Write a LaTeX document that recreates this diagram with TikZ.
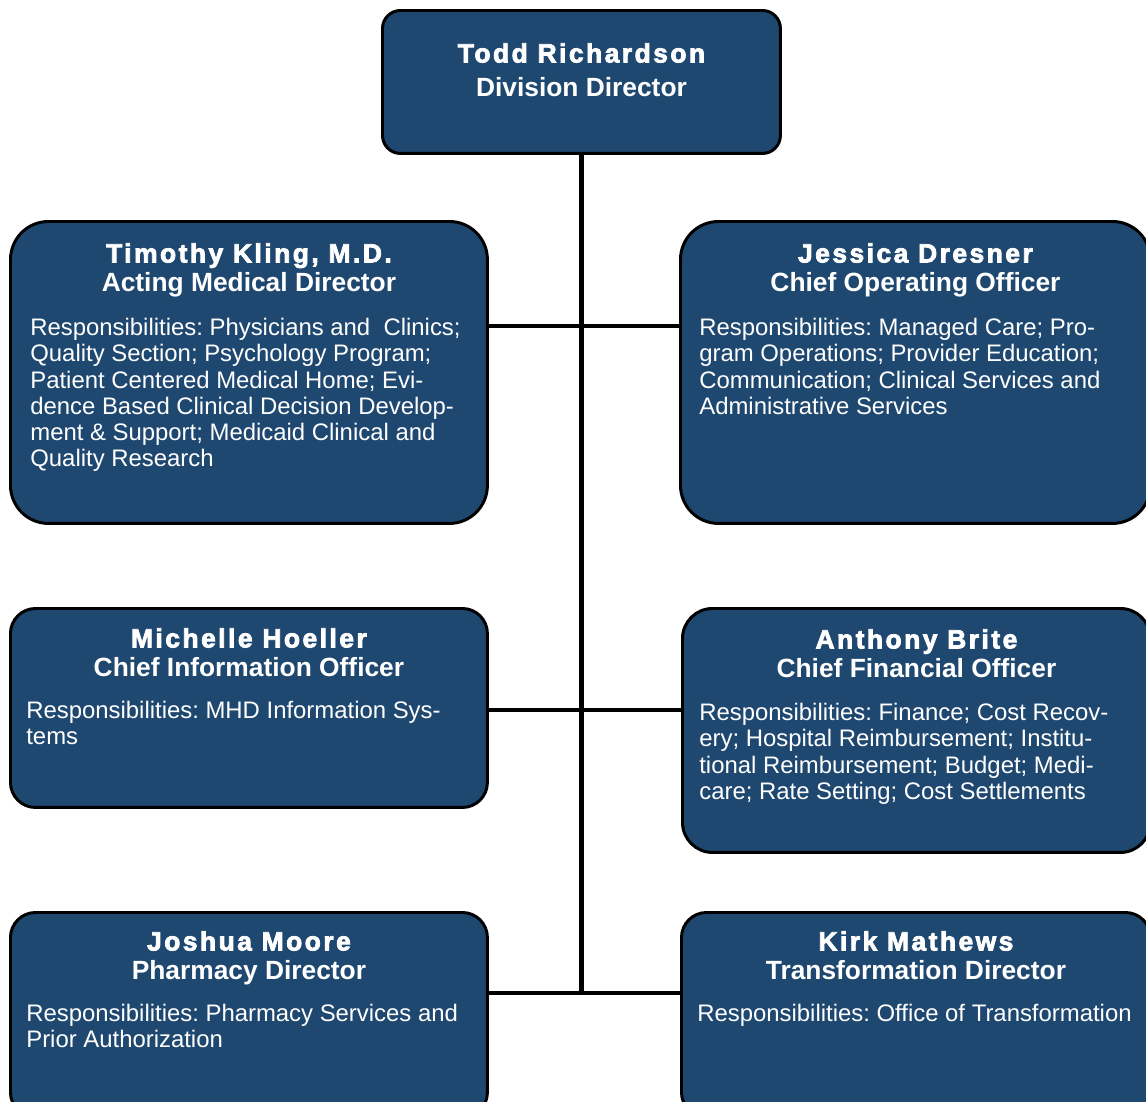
\documentclass[tikz,border=0pt]{standalone}
\usepackage{fontspec}
\setmainfont{Liberation Sans}
\newfontfamily\heavyfont[BoldFeatures={FakeBold=3},LetterSpace=9.5]{Liberation Sans}
\usetikzlibrary{positioning}
\definecolor{boxblue}{HTML}{1F4870}
\frenchspacing

\begin{document}
\begin{tikzpicture}[x=0.02cm,y=-0.02cm,
        staffbox/.style={draw=black,line width=1.7pt,fill=boxblue,anchor=north west,inner sep=0pt},
        headtext/.style={text=white,font=\fontsize{15}{16.7}\selectfont\bfseries,align=center,inner sep=0pt,anchor=north},
        dutytext/.style={text=white,font=\fontsize{13.6}{14.9}\selectfont,align=left,inner sep=0pt,anchor=north west},
        link/.style={line width=2.5pt}
    ]

    \useasboundingbox (0,0) rectangle (1146,1102);
    \clip (0,0) rectangle (1146,1102);

    % boxes
    \node[staffbox,rounded corners=0.36cm,minimum width=7.96cm,minimum height=2.86cm] (dir) at (381,9) {};
    \node[staffbox,rounded corners=0.76cm,minimum width=9.54cm,minimum height=6.04cm] (tim) at (9,220) {};
    \node[staffbox,rounded corners=0.76cm,minimum width=9.4cm,minimum height=6.04cm] (jes) at (679,220) {};
    \node[staffbox,rounded corners=0.5cm,minimum width=9.54cm,minimum height=3.98cm] (mic) at (9,607) {};
    \node[staffbox,rounded corners=0.6cm,minimum width=9.36cm,minimum height=4.88cm] (ant) at (681,607) {};
    \node[staffbox,rounded corners=0.5cm,minimum width=9.54cm,minimum height=4.1cm] (jos) at (9,911) {};
    \node[staffbox,rounded corners=0.5cm,minimum width=9.38cm,minimum height=4.1cm] (kir) at (680,911) {};

    % names and titles
    \node[headtext,font=\fontsize{15}{19.3}\selectfont\bfseries] (dirh) at ([yshift=-0.68cm]dir.north) {{\heavyfont Todd Richardson}\\Division Director};
    \node[headtext] (timh) at ([yshift=-0.46cm]tim.north) {{\heavyfont Timothy Kling, M.D.}\\Acting Medical Director};
    \node[headtext] (jesh) at ([yshift=-0.46cm]jes.north) {{\heavyfont Jessica Dresner}\\Chief Operating Officer};
    \node[headtext] (mich) at ([yshift=-0.42cm]mic.north) {{\heavyfont Michelle Hoeller}\\Chief Information Officer};
    \node[headtext] (anth) at ([yshift=-0.44cm]ant.north) {{\heavyfont Anthony Brite}\\Chief Financial Officer};
    \node[headtext] (josh) at ([yshift=-0.4cm]jos.north) {{\heavyfont Joshua Moore}\\Pharmacy Director};
    \node[headtext] (kirh) at ([yshift=-0.4cm]kir.north) {{\heavyfont Kirk Mathews}\\Transformation Director};

    % responsibilities
    \node[dutytext] (timd) at ([xshift=0.42cm,yshift=-1.96cm]tim.north west) {Responsibilities: Physicians and\ \ Clinics;\\Quality Section; Psychology Program;\\Patient Centered Medical Home; Evi-\\dence Based Clinical Decision Develop-\\ment \& Support; Medicaid Clinical and\\Quality Research};
    \node[dutytext] (jesd) at ([xshift=0.4cm,yshift=-1.96cm]jes.north west) {Responsibilities: Managed Care; Pro-\\gram Operations; Provider Education;\\Communication; Clinical Services and\\Administrative Services};
    \node[dutytext] (micd) at ([xshift=0.34cm,yshift=-1.88cm]mic.north west) {Responsibilities: MHD Information Sys-\\tems};
    \node[dutytext] (antd) at ([xshift=0.36cm,yshift=-1.92cm]ant.north west) {Responsibilities: Finance; Cost Recov-\\ery; Hospital Reimbursement; Institu-\\tional Reimbursement; Budget; Medi-\\care; Rate Setting; Cost Settlements};
    \node[dutytext] (josd) at ([xshift=0.34cm,yshift=-1.86cm]jos.north west) {Responsibilities: Pharmacy Services and\\Prior Authorization};
    \node[dutytext] (kird) at ([xshift=0.34cm,yshift=-1.86cm]kir.north west) {Responsibilities: Office of Transformation};

    % connectors
    \coordinate (low) at ([yshift=-1.64cm]jos.north east);
    \draw[link] (dir.south) -- (dir.south |- low);
    \draw[link] ([yshift=-2.12cm]tim.north east) -- ([yshift=-2.12cm]jes.north west);
    \draw[link] ([yshift=-2.06cm]mic.north east) -- ([yshift=-2.06cm]ant.north west);
    \draw[link] (low) -- ([yshift=-1.64cm]kir.north west);

\end{tikzpicture}
\end{document}
